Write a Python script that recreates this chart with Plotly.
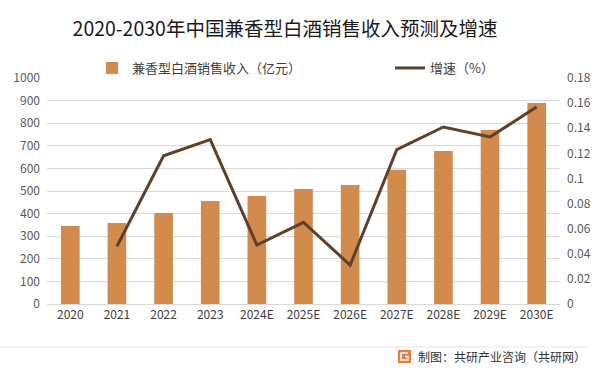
import plotly.graph_objects as go

years = ["2020", "2021", "2022", "2023", "2024E", "2025E", "2026E", "2027E", "2028E", "2029E", "2030E"]
revenue = [345, 358, 403, 456, 478, 509, 527, 594, 677, 770, 889]
growth = [None, 0.046, 0.118, 0.131, 0.047, 0.065, 0.031, 0.123, 0.141, 0.133, 0.157]
left_ticks = [0, 100, 200, 300, 400, 500, 600, 700, 800, 900, 1000]
right_ticks = [0, 0.02, 0.04, 0.06, 0.08, 0.1, 0.12, 0.14, 0.16, 0.18]
right_labels = ["0", "0.02", "0.04", "0.06", "0.08", "0.1", "0.12", "0.14", "0.16", "0.18"]

FONT = "Noto Sans CJK SC"
BAR = "#D38B4D"
LINE = "#5E412B"

fig = go.Figure()
fig.add_trace(go.Bar(
    x=years, y=revenue, name="兼香型白酒销售收入（亿元）",
    marker=dict(color=BAR, line=dict(width=0)), legend="legend",
))
fig.add_trace(go.Scatter(
    x=years, y=growth, name="增速（%）", mode="lines", yaxis="y2",
    line=dict(color=LINE, width=3), legend="legend2",
))

W, H = 602, 377
L, R, T, B = 47, 42, 78, 73
pw = W - L - R
ph = H - T - B

def py(ypix):
    return (T + ph - ypix) / ph

def px(xpix):
    return (xpix - L) / pw

fig.update_layout(
    width=W, height=H,
    margin=dict(l=L, r=R, t=T, b=B, autoexpand=False),
    paper_bgcolor="white", plot_bgcolor="white",
    font=dict(family=FONT, size=12, color="#595959"),
    bargap=0.6,
    showlegend=True,
    title=dict(text="2020-2030年中国兼香型白酒销售收入预测及增速",
               x=285 / W, xref="container", xanchor="center",
               y=1 - 29 / H, yref="container", yanchor="middle",
               font=dict(family=FONT, size=19.5, color="#1a1a1a")),
    legend=dict(orientation="h", x=px(92), xanchor="left",
                y=py(68), yanchor="middle",
                font=dict(size=13, color="#404040"), bgcolor="rgba(0,0,0,0)"),
    legend2=dict(orientation="h", x=px(390), xanchor="left",
                 y=py(68), yanchor="middle",
                 font=dict(size=13, color="#404040"), bgcolor="rgba(0,0,0,0)"),
    xaxis=dict(type="category", showgrid=False, showline=True, linecolor="#D9D9D9",
               ticks="", tickfont=dict(size=12, color="#404040")),
    yaxis=dict(range=[0, 1000], tickvals=left_ticks, showgrid=True, gridcolor="#D9D9D9",
               gridwidth=1, zeroline=False, ticks="", ticklabelstandoff=6,
               tickfont=dict(size=12, color="#595959")),
    yaxis2=dict(range=[0, 0.18], tickvals=right_ticks, ticktext=right_labels, overlaying="y",
                side="right", showgrid=False, zeroline=False, ticks="",
                ticklabelstandoff=6, tickfont=dict(size=12, color="#595959")),
)

# footer separator line, logo and source text
fig.add_shape(type="line", xref="paper", yref="paper",
              x0=px(0), x1=px(588), y0=py(347), y1=py(347),
              line=dict(color="#E3E3E3", width=1))
fig.add_shape(type="rect", xref="paper", yref="paper",
              x0=px(398), x1=px(411), y0=py(363), y1=py(350),
              fillcolor="#F07A3A", line=dict(width=0))
fig.add_shape(type="path", xref="paper", yref="paper",
              path=(f"M {px(408)},{py(353)} L {px(401)},{py(353)} L {px(401)},{py(360)} "
                    f"L {px(408)},{py(360)} L {px(408)},{py(356.5)} L {px(405)},{py(356.5)}"),
              line=dict(color="white", width=1.6))
fig.add_annotation(text="制图：共研产业咨询（共研网）", xref="paper", yref="paper",
                   x=px(588), xanchor="right", y=py(356), yanchor="middle",
                   showarrow=False, font=dict(family=FONT, size=12, color="#333333"))

fig.write_html("out.html", config={"displayModeBar": False},
               post_script="document.body.style.margin='0';document.body.style.padding='0';")
